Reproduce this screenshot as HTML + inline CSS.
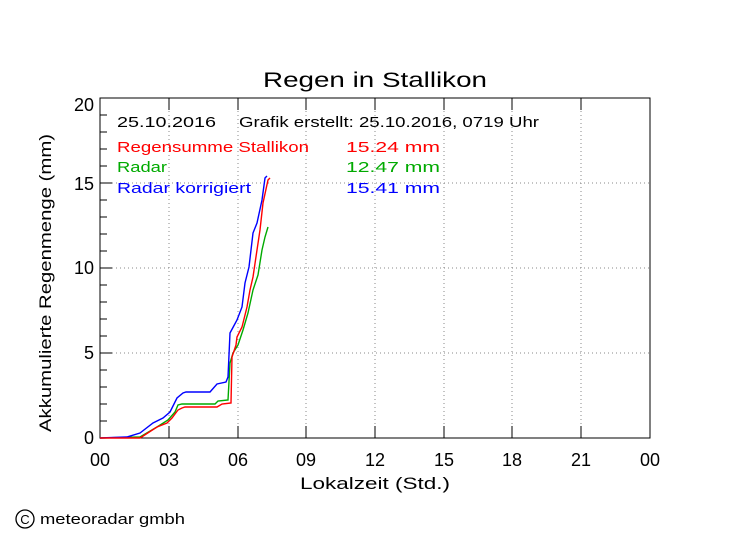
<!DOCTYPE html>
<html><head><meta charset="utf-8"><style>
body{margin:0;background:#fff;}
svg{display:block;font-family:"Liberation Sans",sans-serif;}
</style></head><body>
<svg width="749" height="539" viewBox="0 0 749 539">
<rect width="749" height="539" fill="#fff"/>
<text x="263" y="87" font-size="21" textLength="224" lengthAdjust="spacingAndGlyphs">Regen in Stallikon</text>
<g stroke="#888" stroke-width="1" stroke-dasharray="1,3">
<line x1="169" y1="99" x2="169" y2="438"/><line x1="238" y1="99" x2="238" y2="438"/>
<line x1="306" y1="99" x2="306" y2="438"/><line x1="375" y1="99" x2="375" y2="438"/>
<line x1="444" y1="99" x2="444" y2="438"/><line x1="512" y1="99" x2="512" y2="438"/>
<line x1="581" y1="99" x2="581" y2="438"/>
<line x1="100" y1="353" x2="650" y2="353"/><line x1="100" y1="268" x2="650" y2="268"/>
<line x1="100" y1="183" x2="650" y2="183"/>
</g>
<rect x="100" y="98" width="550" height="340" fill="none" stroke="#000" stroke-width="1"/>
<g stroke="#000" stroke-width="1">
<line x1="100" y1="421" x2="107" y2="421"/><line x1="100" y1="404" x2="107" y2="404"/><line x1="100" y1="387" x2="107" y2="387"/><line x1="100" y1="370" x2="107" y2="370"/><line x1="100" y1="353" x2="112" y2="353"/>
<line x1="100" y1="336" x2="107" y2="336"/><line x1="100" y1="319" x2="107" y2="319"/><line x1="100" y1="302" x2="107" y2="302"/><line x1="100" y1="285" x2="107" y2="285"/><line x1="100" y1="268" x2="112" y2="268"/>
<line x1="100" y1="251" x2="107" y2="251"/><line x1="100" y1="234" x2="107" y2="234"/><line x1="100" y1="217" x2="107" y2="217"/><line x1="100" y1="200" x2="107" y2="200"/><line x1="100" y1="183" x2="112" y2="183"/>
<line x1="100" y1="166" x2="107" y2="166"/><line x1="100" y1="149" x2="107" y2="149"/><line x1="100" y1="132" x2="107" y2="132"/><line x1="100" y1="115" x2="107" y2="115"/>
<line x1="169" y1="438" x2="169" y2="426"/><line x1="238" y1="438" x2="238" y2="426"/><line x1="306" y1="438" x2="306" y2="426"/><line x1="375" y1="438" x2="375" y2="426"/><line x1="444" y1="438" x2="444" y2="426"/><line x1="512" y1="438" x2="512" y2="426"/><line x1="581" y1="438" x2="581" y2="426"/>
<line x1="169" y1="98" x2="169" y2="110"/><line x1="238" y1="98" x2="238" y2="110"/><line x1="306" y1="98" x2="306" y2="110"/><line x1="375" y1="98" x2="375" y2="110"/><line x1="444" y1="98" x2="444" y2="110"/><line x1="512" y1="98" x2="512" y2="110"/><line x1="581" y1="98" x2="581" y2="110"/>
</g>
<g font-size="18" text-anchor="end">
<text x="94" y="444">0</text><text x="94" y="359">5</text><text x="94" y="274">10</text><text x="94" y="190">15</text><text x="94" y="111">20</text>
</g>
<g font-size="18" text-anchor="middle">
<text x="100" y="466">00</text><text x="169" y="466">03</text><text x="238" y="466">06</text><text x="306" y="466">09</text><text x="375" y="466">12</text><text x="444" y="466">15</text><text x="512" y="466">18</text><text x="581" y="466">21</text><text x="650" y="466">00</text>
</g>
<text x="300" y="489" font-size="17" textLength="150" lengthAdjust="spacingAndGlyphs">Lokalzeit (Std.)</text>
<text transform="translate(51,283) rotate(-90)" font-size="17" text-anchor="middle" textLength="298" lengthAdjust="spacingAndGlyphs">Akkumulierte Regenmenge (mm)</text>
<text x="117" y="127" font-size="15" textLength="99" lengthAdjust="spacingAndGlyphs">25.10.2016</text>
<text x="239" y="127" font-size="15" textLength="300" lengthAdjust="spacingAndGlyphs">Grafik erstellt: 25.10.2016, 0719 Uhr</text>
<g font-size="15">
<text x="117" y="152" fill="#f00" textLength="192" lengthAdjust="spacingAndGlyphs">Regensumme Stallikon</text><text x="346" y="152" fill="#f00" textLength="94" lengthAdjust="spacingAndGlyphs">15.24  mm</text>
<text x="117" y="172" fill="#0a0" textLength="50" lengthAdjust="spacingAndGlyphs">Radar</text><text x="346" y="172" fill="#0a0" textLength="94" lengthAdjust="spacingAndGlyphs">12.47  mm</text>
<text x="117" y="193" fill="#00f" textLength="134" lengthAdjust="spacingAndGlyphs">Radar korrigiert</text><text x="346" y="193" fill="#00f" textLength="94" lengthAdjust="spacingAndGlyphs">15.41  mm</text>
</g>
<g fill="none" stroke-width="1.4">
<polyline stroke="#0a0" points="100,438 140,437 157,427 168,420 175,412 178,405 182,404 215,404 218,401 228,400 230,363 233,353 238,345 243,330 248,313 253,290 258,275 262,250 265,237 268,227"/>
<polyline stroke="#00f" points="100,438 127,437 140,433 153,423 163,418 170,412 177,398 183,393 186,392 210,392 217,384 226,382 228,377 230,333 237,320 242,307 245,283 249,267 253,233 257,223 262,200 265,178 267,176"/>
<polyline stroke="#f00" points="100,438 140,438 157,427 167,423 172,418 178,410 182,408 185,407 217,407 222,404 231,403 232,357 236,345 237,337 242,327 247,307 250,290 253,277 257,250 260,230 263,203 268,180 270,178"/>
</g>
<circle cx="25" cy="519" r="9" fill="none" stroke="#000" stroke-width="1.3"/>
<text x="25" y="524" font-size="13" text-anchor="middle">C</text>
<text x="40" y="524" font-size="15" textLength="145" lengthAdjust="spacingAndGlyphs">meteoradar gmbh</text>
</svg>
</body></html>
